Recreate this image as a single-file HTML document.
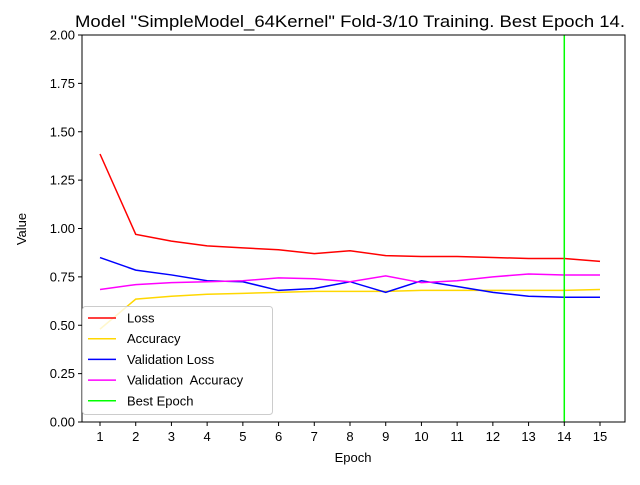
<!DOCTYPE html>
<html><head><meta charset="utf-8"><style>
body{margin:0;background:#fff;}
svg{font-family:"Liberation Sans","DejaVu Sans",sans-serif;}
</style></head><body>
<svg id="chart" width="640" height="480"></svg>
<script>
const epochs=[1,2,3,4,5,6,7,8,9,10,11,12,13,14,15];
const loss=[1.385,0.97,0.935,0.91,0.90,0.89,0.87,0.885,0.86,0.855,0.855,0.85,0.845,0.845,0.83];
const accuracy=[0.48,0.635,0.65,0.66,0.665,0.67,0.675,0.675,0.675,0.68,0.68,0.68,0.68,0.68,0.685];
const valLoss=[0.85,0.785,0.76,0.73,0.725,0.68,0.69,0.725,0.67,0.73,0.70,0.67,0.65,0.645,0.645];
const valAcc=[0.685,0.71,0.72,0.725,0.73,0.745,0.74,0.725,0.755,0.72,0.73,0.75,0.765,0.76,0.76];
const bestEpoch=14;
const yTicks=[0,0.25,0.5,0.75,1.0,1.25,1.5,1.75,2.0];
const NS="http://www.w3.org/2000/svg";
const svg=document.getElementById('chart');
const L=82,R=625,T=35,B=422;
const xs=e=>100+(e-1)*(600-100)/14;
const ys=v=>B-(v/2)*(B-T);
function mk(tag,attrs,parent){const el=document.createElementNS(NS,tag);for(const k in attrs)el.setAttribute(k,attrs[k]);(parent||svg).appendChild(el);return el;}
let t=mk('text',{x:75,y:27,'font-size':17,textLength:550,lengthAdjust:'spacingAndGlyphs'});
t.textContent='Model "SimpleModel_64Kernel" Fold-3/10 Training. Best Epoch 14.';


yTicks.forEach(v=>{
 mk('line',{x1:L-4,x2:L,y1:ys(v),y2:ys(v),stroke:'#000'});
 const tx=mk('text',{x:L-7,y:ys(v)+4.5,'text-anchor':'end','font-size':13});
 tx.textContent=v.toFixed(2);
 
 
});
epochs.forEach(e=>{
 mk('line',{x1:xs(e),x2:xs(e),y1:B,y2:B+4,stroke:'#000'});
 const tx=mk('text',{x:xs(e),y:B+19,'text-anchor':'middle','font-size':13});
 tx.textContent=e;
 
 
});
let xl=mk('text',{x:353,y:462,'text-anchor':'middle','font-size':13});xl.textContent='Epoch';


let yl=mk('text',{x:26,y:229,'text-anchor':'middle','font-size':13,transform:'rotate(-90 26 229)'});yl.textContent='Value';


const series=[[loss,'#ff0000','loss-line'],[accuracy,'#ffd700','accuracy-line'],[valLoss,'#0000ff','validation-loss-line'],[valAcc,'#ff00ff','validation-accuracy-line']];
series.forEach(([d,c,n])=>{
 const p=mk('polyline',{points:d.map((v,i)=>xs(epochs[i])+','+ys(v)).join(' '),fill:'none',stroke:c,'stroke-width':1.5});
 
 
});
const bl=mk('line',{x1:xs(bestEpoch),x2:xs(bestEpoch),y1:T,y2:B,stroke:'#00ff00','stroke-width':1.5});


mk('rect',{x:L,y:T,width:R-L,height:B-T,fill:'none',stroke:'#000','stroke-width':1});
const lg=mk('g',{});


mk('rect',{x:82.5,y:306.5,width:190,height:108,rx:3,fill:'#fff','fill-opacity':0.8,stroke:'#ccc'},lg);
const names=['Loss','Accuracy','Validation Loss','Validation  Accuracy','Best Epoch'];
const cols=['#ff0000','#ffd700','#0000ff','#ff00ff','#00ff00'];
names.forEach((n,i)=>{
 const y=318+i*20.7;
 const g=mk('g',{},lg);
 
 
 mk('line',{x1:88,x2:116,y1:y,y2:y,stroke:cols[i],'stroke-width':1.5},g);
 const tx=mk('text',{x:127,y:y+4.5,'font-size':13},g);
 tx.style.whiteSpace='pre';
 tx.textContent=n;
});
</script>
</body></html>
